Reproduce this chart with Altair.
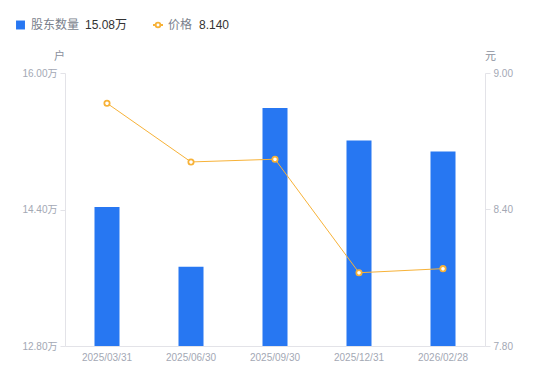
import altair as alt
import pandas as pd

dates = ["2025/03/31", "2025/06/30", "2025/09/30", "2025/12/31", "2026/02/28"]
holders = [14.43, 13.73, 15.59, 15.21, 15.08]   # 万户
price = [8.867, 8.609, 8.621, 8.122, 8.140]     # 元

left_ticks = [12.8, 14.4, 16.0]
right_ticks = [7.8, 8.4, 9.0]

df = pd.DataFrame({"date": dates, "holders": holders, "price": price})

FONT = "Liberation Sans, Noto Sans CJK SC"
LABEL = "#a3a8b4"
AXIS_LINE = "#e3e3e8"
BLUE = "#2777f2"
ORANGE = "#f7b238"

x_enc = alt.X("date:N", sort=dates, title=None,
              scale=alt.Scale(paddingInner=0, paddingOuter=0),
              axis=alt.Axis(labelAngle=0, ticks=False, domainColor=AXIS_LINE,
                            labelColor=LABEL, labelFontSize=10, labelPadding=6,
                            labelFont=FONT))

bars = alt.Chart(df).mark_bar(size=25, color=BLUE, clip=True).encode(
    x=x_enc,
    y=alt.Y("holders:Q", title="户",
            scale=alt.Scale(domain=[12.8, 16.0], nice=False, zero=False),
            axis=alt.Axis(values=left_ticks, format=".2f",
                          labelExpr="format(datum.value, '.2f') + '万'",
                          grid=False, domainColor=AXIS_LINE, tickColor=AXIS_LINE,
                          tickSize=5, labelColor=LABEL, labelFontSize=10,
                          labelFont=FONT, labelPadding=3,
                          titleAngle=0, titleX=-6, titleY=-12, titleAlign="center",
                          titleColor="#8a8f9c", titleFontSize=11, titleFontWeight="normal",
                          titleFont=FONT)),
    y2=alt.Y2(datum=12.8),
)

line = alt.Chart(df).mark_line(
    color=ORANGE, strokeWidth=1,
    point=alt.OverlayMarkDef(shape="circle", filled=True, fill="white",
                             stroke=ORANGE, strokeWidth=1.8, size=28, opacity=1),
).encode(
    x=alt.X("date:N", sort=dates),
    y=alt.Y("price:Q", title="元",
            scale=alt.Scale(domain=[7.8, 9.0], nice=False, zero=False),
            axis=alt.Axis(orient="right", values=right_ticks, format=".2f",
                          grid=False, domainColor=AXIS_LINE, tickColor=AXIS_LINE,
                          tickSize=5, labelColor=LABEL, labelFontSize=10,
                          labelFont=FONT, labelPadding=3,
                          titleAngle=0, titleX=5, titleY=-12, titleAlign="center",
                          titleColor="#8a8f9c", titleFontSize=11, titleFontWeight="normal",
                          titleFont=FONT)),
)

one = pd.DataFrame({"a": [0]})
LY = -48
leg_sq = alt.Chart(one).mark_square(size=80, color=BLUE, opacity=1).encode(
    x=alt.value(-44.5), y=alt.value(LY))
leg_t1 = alt.Chart(one).mark_text(text="股东数量", align="left", baseline="middle",
                                  fontSize=12, color="#7a7f8c", font=FONT).encode(
    x=alt.value(-34), y=alt.value(LY))
leg_v1 = alt.Chart(one).mark_text(text="15.08万", align="left", baseline="middle",
                                  fontSize=12, color="#333333", font=FONT).encode(
    x=alt.value(20), y=alt.value(LY))
leg_bar = alt.Chart(one).mark_bar(color=ORANGE).encode(
    x=alt.value(88), x2=alt.value(98), y=alt.value(LY - 1), y2=alt.value(LY + 1))
leg_pt = alt.Chart(one).mark_point(shape="circle", filled=True, fill="white",
                                   stroke=ORANGE, strokeWidth=1.8, size=22, opacity=1).encode(
    x=alt.value(93), y=alt.value(LY))
leg_t2 = alt.Chart(one).mark_text(text="价格", align="left", baseline="middle",
                                  fontSize=12, color="#7a7f8c", font=FONT).encode(
    x=alt.value(103), y=alt.value(LY))
leg_v2 = alt.Chart(one).mark_text(text="8.140", align="left", baseline="middle",
                                  fontSize=12, color="#333333", font=FONT).encode(
    x=alt.value(134), y=alt.value(LY))

chart = alt.layer(bars, line, leg_sq, leg_t1, leg_v1, leg_bar, leg_pt, leg_t2, leg_v2
                  ).resolve_scale(y="independent").properties(
    width=420, height=273,
    autosize=alt.AutoSizeParams(type="none"),
    padding={"left": 57, "top": 65, "right": 50, "bottom": 30},
).configure(font=FONT).configure_view(strokeWidth=0)

chart.save("out.html", embed_options={"renderer": "svg", "actions": False})
